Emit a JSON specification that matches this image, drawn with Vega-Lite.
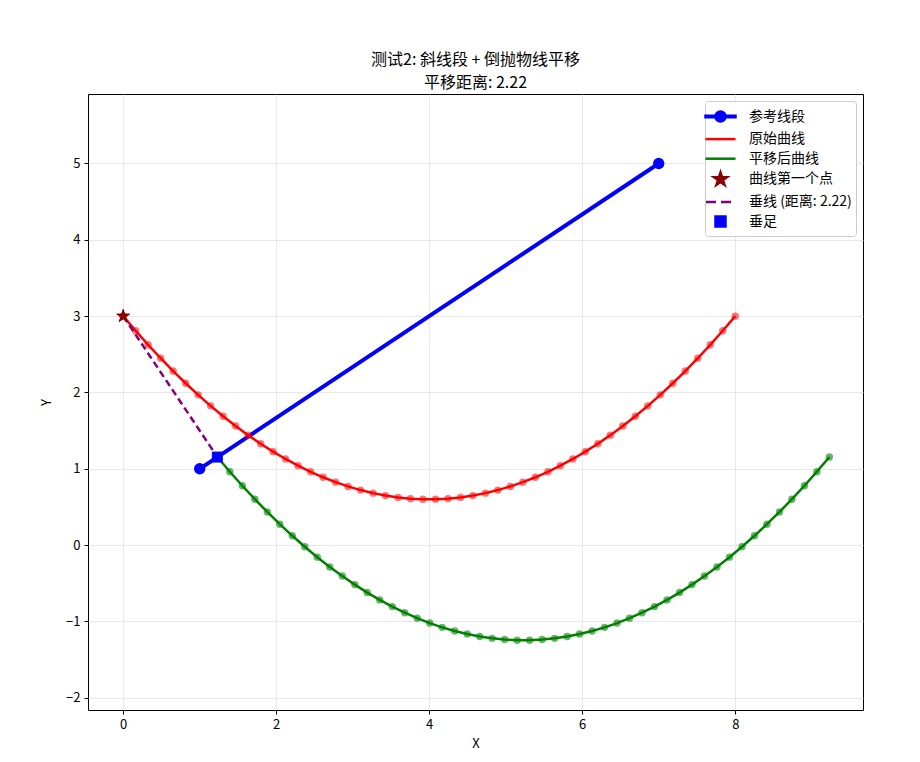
{
  "$schema": "https://vega.github.io/schema/vega-lite/v6.json",
  "width": 775,
  "height": 616,
  "autosize": {"type": "none"},
  "padding": {"left": 88, "top": 94, "right": 57, "bottom": 52},
  "background": "white",
  "config": {
    "font": "Noto Sans CJK SC",
    "view": {"stroke": "black", "strokeWidth": 1},
    "axis": {
      "gridColor": "#e3e3e3", "gridWidth": 0.8, "domain": false,
      "tickColor": "black", "tickSize": 4, "labelColor": "black", "labelFontSize": 13,
      "titleColor": "black", "titleFontSize": 13, "titleFontWeight": "normal", "labelPadding": 4
    },
    "legend": {
      "orient": "top-right", "offset": 7, "padding": 4, "fillColor": "white", "strokeColor": "#cccccc",
      "cornerRadius": 3, "labelFontSize": 14, "labelColor": "black", "symbolSize": 400,
      "symbolStrokeWidth": 2.5, "labelOffset": 17, "rowPadding": 0.6, "symbolOpacity": 1
    }
  },
  "title": {
    "text": ["测试2: 斜线段 + 倒抛物线平移", "平移距离: 2.22"],
    "fontSize": 16, "fontWeight": "normal", "color": "black", "lineHeight": 23, "offset": 3, "anchor": "middle"
  },
  "datasets": {
    "orig": [
      {"x": 0, "y": 3.0}, {"x": 0.1633, "y": 2.8081}, {"x": 0.3265, "y": 2.6242}, {"x": 0.4898, "y": 2.4482},
      {"x": 0.6531, "y": 2.2803}, {"x": 0.8163, "y": 2.1204}, {"x": 0.9796, "y": 1.9684}, {"x": 1.1429, "y": 1.8245},
      {"x": 1.3061, "y": 1.6886}, {"x": 1.4694, "y": 1.5606}, {"x": 1.6327, "y": 1.4407}, {"x": 1.7959, "y": 1.3287},
      {"x": 1.9592, "y": 1.2247}, {"x": 2.1224, "y": 1.1288}, {"x": 2.2857, "y": 1.0408}, {"x": 2.449, "y": 0.9609},
      {"x": 2.6122, "y": 0.8889}, {"x": 2.7755, "y": 0.8249}, {"x": 2.9388, "y": 0.7689}, {"x": 3.102, "y": 0.721},
      {"x": 3.2653, "y": 0.681}, {"x": 3.4286, "y": 0.649}, {"x": 3.5918, "y": 0.625}, {"x": 3.7551, "y": 0.609},
      {"x": 3.9184, "y": 0.601}, {"x": 4.0816, "y": 0.601}, {"x": 4.2449, "y": 0.609}, {"x": 4.4082, "y": 0.625},
      {"x": 4.5714, "y": 0.649}, {"x": 4.7347, "y": 0.681}, {"x": 4.898, "y": 0.721}, {"x": 5.0612, "y": 0.7689},
      {"x": 5.2245, "y": 0.8249}, {"x": 5.3878, "y": 0.8889}, {"x": 5.551, "y": 0.9609}, {"x": 5.7143, "y": 1.0408},
      {"x": 5.8776, "y": 1.1288}, {"x": 6.0408, "y": 1.2247}, {"x": 6.2041, "y": 1.3287}, {"x": 6.3673, "y": 1.4407},
      {"x": 6.5306, "y": 1.5606}, {"x": 6.6939, "y": 1.6886}, {"x": 6.8571, "y": 1.8245}, {"x": 7.0204, "y": 1.9684},
      {"x": 7.1837, "y": 2.1204}, {"x": 7.3469, "y": 2.2803}, {"x": 7.5102, "y": 2.4482}, {"x": 7.6735, "y": 2.6242},
      {"x": 7.8367, "y": 2.8081}, {"x": 8.0, "y": 3.0}
    ],
    "shift": [
      {"x": 1.2308, "y": 1.1538}, {"x": 1.3941, "y": 0.9619}, {"x": 1.5573, "y": 0.778}, {"x": 1.7206, "y": 0.602},
      {"x": 1.8839, "y": 0.4341}, {"x": 2.0471, "y": 0.2742}, {"x": 2.2104, "y": 0.1222}, {"x": 2.3737, "y": -0.0217},
      {"x": 2.5369, "y": -0.1576}, {"x": 2.7002, "y": -0.2856}, {"x": 2.8635, "y": -0.4055}, {"x": 3.0267, "y": -0.5175},
      {"x": 3.19, "y": -0.6215}, {"x": 3.3532, "y": -0.7174}, {"x": 3.5165, "y": -0.8054}, {"x": 3.6798, "y": -0.8853},
      {"x": 3.843, "y": -0.9573}, {"x": 4.0063, "y": -1.0213}, {"x": 4.1696, "y": -1.0773}, {"x": 4.3328, "y": -1.1252},
      {"x": 4.4961, "y": -1.1652}, {"x": 4.6594, "y": -1.1972}, {"x": 4.8226, "y": -1.2212}, {"x": 4.9859, "y": -1.2372},
      {"x": 5.1492, "y": -1.2452}, {"x": 5.3124, "y": -1.2452}, {"x": 5.4757, "y": -1.2372}, {"x": 5.639, "y": -1.2212},
      {"x": 5.8022, "y": -1.1972}, {"x": 5.9655, "y": -1.1652}, {"x": 6.1288, "y": -1.1252}, {"x": 6.292, "y": -1.0773},
      {"x": 6.4553, "y": -1.0213}, {"x": 6.6186, "y": -0.9573}, {"x": 6.7818, "y": -0.8853}, {"x": 6.9451, "y": -0.8054},
      {"x": 7.1084, "y": -0.7174}, {"x": 7.2716, "y": -0.6215}, {"x": 7.4349, "y": -0.5175}, {"x": 7.5982, "y": -0.4055},
      {"x": 7.7614, "y": -0.2856}, {"x": 7.9247, "y": -0.1576}, {"x": 8.088, "y": -0.0217}, {"x": 8.2512, "y": 0.1222},
      {"x": 8.4145, "y": 0.2742}, {"x": 8.5778, "y": 0.4341}, {"x": 8.741, "y": 0.602}, {"x": 8.9043, "y": 0.778},
      {"x": 9.0675, "y": 0.9619}, {"x": 9.2308, "y": 1.1538}
    ],
    "ref": [{"x": 1, "y": 1}, {"x": 7, "y": 5}],
    "perp": [{"x": 0, "y": 3}, {"x": 1.2308, "y": 1.1538}],
    "special": [
      {"x": 0, "y": 3, "series": "曲线第一个点"},
      {"x": 1.2308, "y": 1.1538, "series": "垂足"}
    ]
  },
  "encoding": {
    "x": {
      "field": "x", "type": "quantitative",
      "scale": {"domain": [-0.46, 9.67], "nice": false, "zero": false},
      "axis": {"title": "X", "values": [0, 2, 4, 6, 8], "titlePadding": 6}
    },
    "y": {
      "field": "y", "type": "quantitative",
      "scale": {"domain": [-2.16, 5.91], "nice": false, "zero": false},
      "axis": {"title": "Y", "values": [-2, -1, 0, 1, 2, 3, 4, 5], "titlePadding": 12}
    }
  },
  "layer": [
    {"data": {"name": "ref"}, "mark": {"type": "line", "color": "blue", "strokeWidth": 4}},
    {"data": {"name": "ref"}, "mark": {"type": "point", "shape": "circle", "filled": true, "color": "blue", "size": 130, "opacity": 1}},
    {"data": {"name": "orig"}, "mark": {"type": "line", "color": "red", "strokeWidth": 2.5}},
    {"data": {"name": "orig"}, "mark": {"type": "point", "shape": "circle", "filled": true, "color": "red", "size": 55, "opacity": 0.55}},
    {"data": {"name": "shift"}, "mark": {"type": "line", "color": "green", "strokeWidth": 2.5}},
    {"data": {"name": "shift"}, "mark": {"type": "point", "shape": "circle", "filled": true, "color": "green", "size": 55, "opacity": 0.6}},
    {"data": {"name": "perp"}, "mark": {"type": "line", "color": "purple", "strokeWidth": 2.5, "strokeDash": [7, 4]}},
    {
      "data": {"name": "special"},
      "mark": {"type": "point", "filled": true, "opacity": 1, "strokeWidth": 1, "size": 400},
      "encoding": {
        "fill": {
          "field": "series", "type": "nominal",
          "scale": {
            "domain": ["参考线段", "原始曲线", "平移后曲线", "曲线第一个点", "垂线 (距离: 2.22)", "垂足"],
            "range": ["blue", "red", "green", "#8b0000", "purple", "blue"]
          },
          "legend": {"title": null}
        },
        "stroke": {
          "field": "series", "type": "nominal",
          "scale": {
            "domain": ["参考线段", "原始曲线", "平移后曲线", "曲线第一个点", "垂线 (距离: 2.22)", "垂足"],
            "range": ["blue", "red", "green", "#8b0000", "purple", "blue"]
          },
          "legend": {"title": null}
        },
        "shape": {
          "field": "series", "type": "nominal",
          "scale": {
            "domain": ["参考线段", "原始曲线", "平移后曲线", "曲线第一个点", "垂线 (距离: 2.22)", "垂足"],
            "range": [
              "M-1.5,-0.08H1.5V0.08H-1.5ZM-0.5,0A0.5,0.5,0,1,0,0.5,0A0.5,0.5,0,1,0,-0.5,0Z",
              "M-1.5,0H1.5",
              "M-1.5,0H1.5",
              "M0,-0.68L0.152,-0.21L0.647,-0.21L0.247,0.081L0.4,0.55L0,0.26L-0.4,0.55L-0.247,0.081L-0.647,-0.21L-0.152,-0.21Z",
              "M-1.45,0H-0.45M0.05,0H1.05",
              "M-0.5,-0.5H0.5V0.5H-0.5Z"
            ]
          },
          "legend": {"title": null}
        }
      }
    }
  ]
}
